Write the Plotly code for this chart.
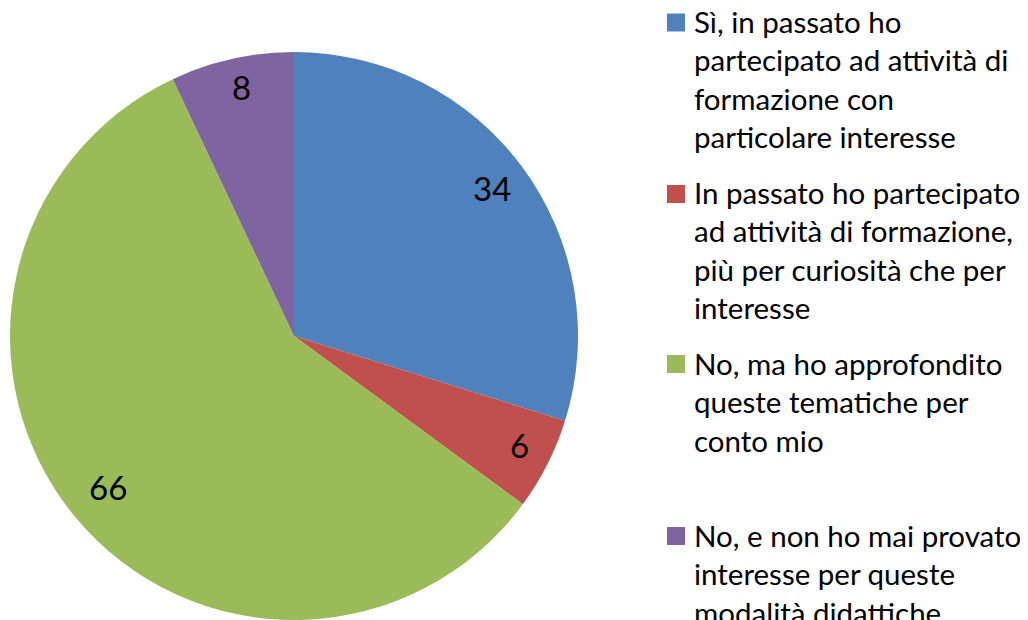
import math
import plotly.graph_objects as go

labels = [
    "Sì, in passato ho<br>partecipato ad attività di<br>formazione con<br>particolare interesse",
    "In passato ho partecipato<br>ad attività di formazione,<br>più per curiosità che per<br>interesse",
    "No, ma ho approfondito<br>queste tematiche per<br>conto mio",
    "No, e non ho mai provato<br>interesse per queste<br>modalità didattiche",
]
values = [34, 6, 66, 8]
colors = ["#4F81BD", "#C0504D", "#9BBB59", "#8064A2"]

# the page body has an 8px default margin; figure pixels = page pixels - 8
OFF = 8
W, H = 1028 - OFF, 620 - OFF
FONT = "Lato"

def fx(x):
    return (x - OFF) / W

def fy(y):
    return 1 - (y - OFF) / H

# pie geometry (page pixels)
pie_left, pie_right, pie_top = 9, 579, 52
pie_bottom = 620
dom_x = [fx(pie_left), fx(pie_right)]
dom_y = [max(0, fy(pie_bottom)), fy(pie_top)]
r = min(pie_right - pie_left, pie_bottom - pie_top) / 2
cx = (pie_left + pie_right) / 2
cy = pie_top + r

fig = go.Figure()
fig.add_trace(go.Pie(
    labels=labels,
    values=values,
    sort=False,
    direction="clockwise",
    rotation=0,
    marker=dict(colors=colors, line=dict(width=0)),
    textinfo="none",
    hoverinfo="label+value",
    showlegend=False,
    domain=dict(x=dom_x, y=dom_y),
))

# data labels: "best fit" inside the slice, near the rim
total = sum(values)
cum = 0
annotations = []
lbl_size = 33
digit_w, digit_h = 17.5, 23
for v in values:
    mid = (cum + v / 2) / total * 2 * math.pi
    cum += v
    w = digit_w * len(str(v))
    ext = abs(math.sin(mid)) * w / 2 + abs(math.cos(mid)) * digit_h / 2
    d = r - 20 - ext
    px = cx + d * math.sin(mid) + 2
    py = cy - d * math.cos(mid) - 4
    annotations.append(dict(
        x=fx(px), y=fy(py), xref="paper", yref="paper",
        text=str(v), showarrow=False, xanchor="center", yanchor="middle",
        font=dict(family=FONT, size=lbl_size, color="#000000"),
    ))

# legend drawn manually
item_centers = [22.5, 194, 364, 536]
sq = 18
shapes = []
leg_font = 29.5
for lab, col, yc in zip(labels, colors, item_centers):
    shapes.append(dict(
        type="rect", xref="paper", yref="paper",
        x0=fx(667), x1=fx(667 + sq),
        y0=fy(yc + sq / 2), y1=fy(yc - sq / 2),
        fillcolor=col, line=dict(width=0),
    ))
    top = yc - 19.5
    annotations.append(dict(
        x=fx(693), y=fy(top), xref="paper", yref="paper",
        text=lab, showarrow=False, xanchor="left", yanchor="top", align="left",
        font=dict(family=FONT, size=leg_font, color="#000000"),
        borderpad=0,
    ))

fig.update_layout(
    width=W, height=H,
    margin=dict(l=0, r=0, t=0, b=0),
    paper_bgcolor="white",
    plot_bgcolor="white",
    annotations=annotations,
    shapes=shapes,
)

fig.write_html("out.html")
